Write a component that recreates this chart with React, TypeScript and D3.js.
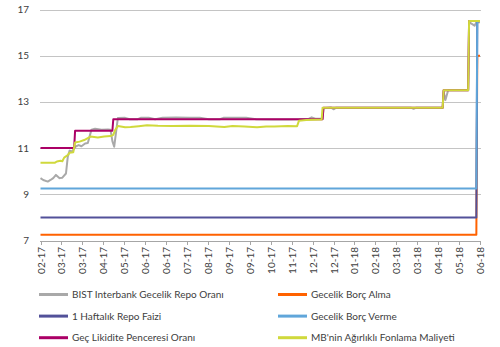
import React from 'react';
import * as d3 from 'd3';

type Pt = [string, number];

const tickDates: string[] = [
  "2017-02-06", "2017-03-01", "2017-03-24", "2017-04-16", "2017-05-09", "2017-06-01",
  "2017-06-24", "2017-07-17", "2017-08-09", "2017-09-01", "2017-09-24", "2017-10-17",
  "2017-11-09", "2017-12-02", "2017-12-25", "2018-01-17", "2018-02-09", "2018-03-04",
  "2018-03-27", "2018-04-19", "2018-05-12", "2018-06-04",
];
const yTicks: number[] = [7, 9, 11, 13, 15, 17];

const bistRepo: Pt[] = [
  ["2017-02-06", 9.70], ["2017-02-09", 9.62], ["2017-02-14", 9.55], ["2017-02-17", 9.62],
  ["2017-02-20", 9.70], ["2017-02-23", 9.84], ["2017-02-27", 9.70], ["2017-03-02", 9.72],
  ["2017-03-06", 9.90], ["2017-03-08", 10.63], ["2017-03-10", 10.89], ["2017-03-13", 10.85],
  ["2017-03-16", 11.06], ["2017-03-20", 11.13], ["2017-03-23", 11.08], ["2017-03-27", 11.20],
  ["2017-03-30", 11.22], ["2017-04-03", 11.80], ["2017-04-07", 11.84], ["2017-04-14", 11.79],
  ["2017-04-21", 11.81], ["2017-04-24", 11.79], ["2017-04-26", 11.30], ["2017-04-28", 11.06],
  ["2017-05-02", 12.30], ["2017-05-10", 12.31], ["2017-05-15", 12.25], ["2017-05-24", 12.25],
  ["2017-05-27", 12.31], ["2017-06-05", 12.31], ["2017-06-12", 12.25], ["2017-06-20", 12.31],
  ["2017-07-05", 12.32], ["2017-07-20", 12.31], ["2017-07-31", 12.31], ["2017-08-10", 12.25],
  ["2017-08-22", 12.25], ["2017-08-26", 12.31], ["2017-09-20", 12.31], ["2017-10-01", 12.25],
  ["2017-10-20", 12.24], ["2017-11-05", 12.24], ["2017-11-17", 12.25], ["2017-11-28", 12.27],
  ["2017-12-01", 12.33], ["2017-12-05", 12.27], ["2017-12-13", 12.27], ["2017-12-14", 12.73],
  ["2017-12-22", 12.76], ["2017-12-25", 12.68], ["2017-12-28", 12.75], ["2018-03-20", 12.75],
  ["2018-03-23", 12.70], ["2018-03-26", 12.75], ["2018-04-24", 12.75], ["2018-04-25", 13.45],
  ["2018-04-27", 13.08], ["2018-04-30", 13.50], ["2018-05-22", 13.50], ["2018-05-23", 16.45],
  ["2018-05-29", 16.30], ["2018-05-31", 16.45], ["2018-06-04", 16.45],
];

const gecelikBorcAlma: Pt[] = [
  ["2017-02-06", 7.25], ["2018-05-31", 7.25], ["2018-06-01", 15.0], ["2018-06-04", 15.0],
];

const haftalikRepo: Pt[] = [
  ["2017-02-06", 8.0], ["2018-05-31", 8.0], ["2018-06-01", 16.5], ["2018-06-04", 16.5],
];

const gecelikBorcVerme: Pt[] = [
  ["2017-02-06", 9.25], ["2018-05-31", 9.25], ["2018-06-01", 16.5], ["2018-06-04", 16.5],
];

const gecLikidite: Pt[] = [
  ["2017-02-06", 11.0], ["2017-03-15", 11.0], ["2017-03-16", 11.75], ["2017-04-26", 11.75],
  ["2017-04-27", 12.25], ["2017-12-13", 12.25], ["2017-12-14", 12.75], ["2018-04-24", 12.75],
  ["2018-04-25", 13.5], ["2018-05-22", 13.5], ["2018-05-23", 16.5], ["2018-06-04", 16.5],
];

const agirlikliFonlama: Pt[] = [
  ["2017-02-06", 10.37], ["2017-02-22", 10.37], ["2017-02-24", 10.42], ["2017-02-28", 10.45],
  ["2017-03-02", 10.43], ["2017-03-04", 10.59], ["2017-03-08", 10.70], ["2017-03-10", 10.80],
  ["2017-03-14", 10.82], ["2017-03-16", 11.24], ["2017-03-21", 11.28], ["2017-03-26", 11.35],
  ["2017-04-02", 11.50], ["2017-04-10", 11.46], ["2017-04-17", 11.50], ["2017-04-24", 11.52],
  ["2017-04-27", 11.57], ["2017-04-29", 11.78], ["2017-05-02", 11.96], ["2017-05-10", 11.90],
  ["2017-05-16", 11.91], ["2017-05-25", 11.95], ["2017-06-03", 11.99], ["2017-06-15", 11.97],
  ["2017-07-01", 11.96], ["2017-07-20", 11.97], ["2017-08-10", 11.96], ["2017-08-27", 11.91],
  ["2017-09-05", 11.96], ["2017-09-18", 11.93], ["2017-10-02", 11.90], ["2017-10-12", 11.94],
  ["2017-10-21", 11.93], ["2017-11-05", 11.96], ["2017-11-15", 11.95], ["2017-11-17", 12.18],
  ["2017-11-25", 12.22], ["2017-12-12", 12.24], ["2017-12-13", 12.75], ["2018-04-24", 12.75],
  ["2018-04-25", 13.5], ["2018-05-22", 13.5], ["2018-05-23", 16.5], ["2018-06-04", 16.5],
];

const seriesNames: string[] = [
  "BIST Interbank Gecelik Repo Oranı",
  "Gecelik Borç Alma",
  "1 Haftalık Repo Faizi",
  "Gecelik Borç Verme",
  "Geç Likidite Penceresi Oranı",
  "MB'nin Ağırlıklı Fonlama Maliyeti",
];
const seriesData: Pt[][] = [bistRepo, gecelikBorcAlma, haftalikRepo, gecelikBorcVerme, gecLikidite, agirlikliFonlama];
const seriesColors: string[] = ["#A9A9A9", "#FF6200", "#525199", "#60A6DA", "#AB0066", "#D0D93C"];

const FONT = "Lato, 'Open Sans', sans-serif";

export default function App() {
  const parse = d3.utcParse("%Y-%m-%d");
  const x = d3.scaleUtc()
    .domain([parse("2017-02-06") as Date, parse("2018-06-04") as Date])
    .range([40.5, 480]);
  const y = d3.scaleLinear().domain([7, 17]).range([240.5, 9.5]);
  const fmt = d3.utcFormat("%m-%y");
  const line = d3.line<Pt>()
    .x(d => x(parse(d[0]) as Date))
    .y(d => y(d[1]));

  return (
    <svg width={500} height={347} style={{ position: 'absolute', left: 0, top: 0, background: '#fff' }}
      fontFamily={FONT}>
      {/* gridlines */}
      {yTicks.map(t => (
        <line key={t} x1={40} x2={481} y1={Math.round(y(t)) + 0.5} y2={Math.round(y(t)) + 0.5}
          stroke={t === 7 ? "#A6A6A6" : "#C4C4C4"} strokeWidth={1} />
      ))}
      {yTicks.map(t => (
        <text key={t} x={29} y={y(t)} dy="0.35em" textAnchor="end" fontSize={10} fill="#404040">{t}</text>
      ))}
      {/* x ticks */}
      {tickDates.map(d => {
        const xx = Math.round(x(parse(d) as Date)) + 0.5;
        return (
          <g key={d}>
            <line x1={xx} x2={xx} y1={241} y2={245} stroke="#A6A6A6" />
            <text transform={`translate(${xx},247) rotate(-90)`} dy="0.35em" textAnchor="end"
              fontSize={10} fill="#404040">{fmt(parse(d) as Date)}</text>
          </g>
        );
      })}
      {/* series */}
      {seriesData.map((s, i) => (
        <path key={i} d={line(s) || ''} fill="none" stroke={seriesColors[i]} strokeWidth={2}
          strokeLinejoin="round" />
      ))}
      {/* legend */}
      {seriesNames.map((n, i) => {
        const col = i % 2;
        const row = Math.floor(i / 2);
        const lx = col === 0 ? 39 : 278;
        const ly = 294.5 + row * 21.6;
        return (
          <g key={n}>
            <line x1={lx} x2={lx + 29} y1={ly} y2={ly} stroke={seriesColors[i]} strokeWidth={3} />
            <text x={lx + 33} y={ly} dy="0.35em" fontSize={10} fill="#404040">{n}</text>
          </g>
        );
      })}
    </svg>
  );
}
